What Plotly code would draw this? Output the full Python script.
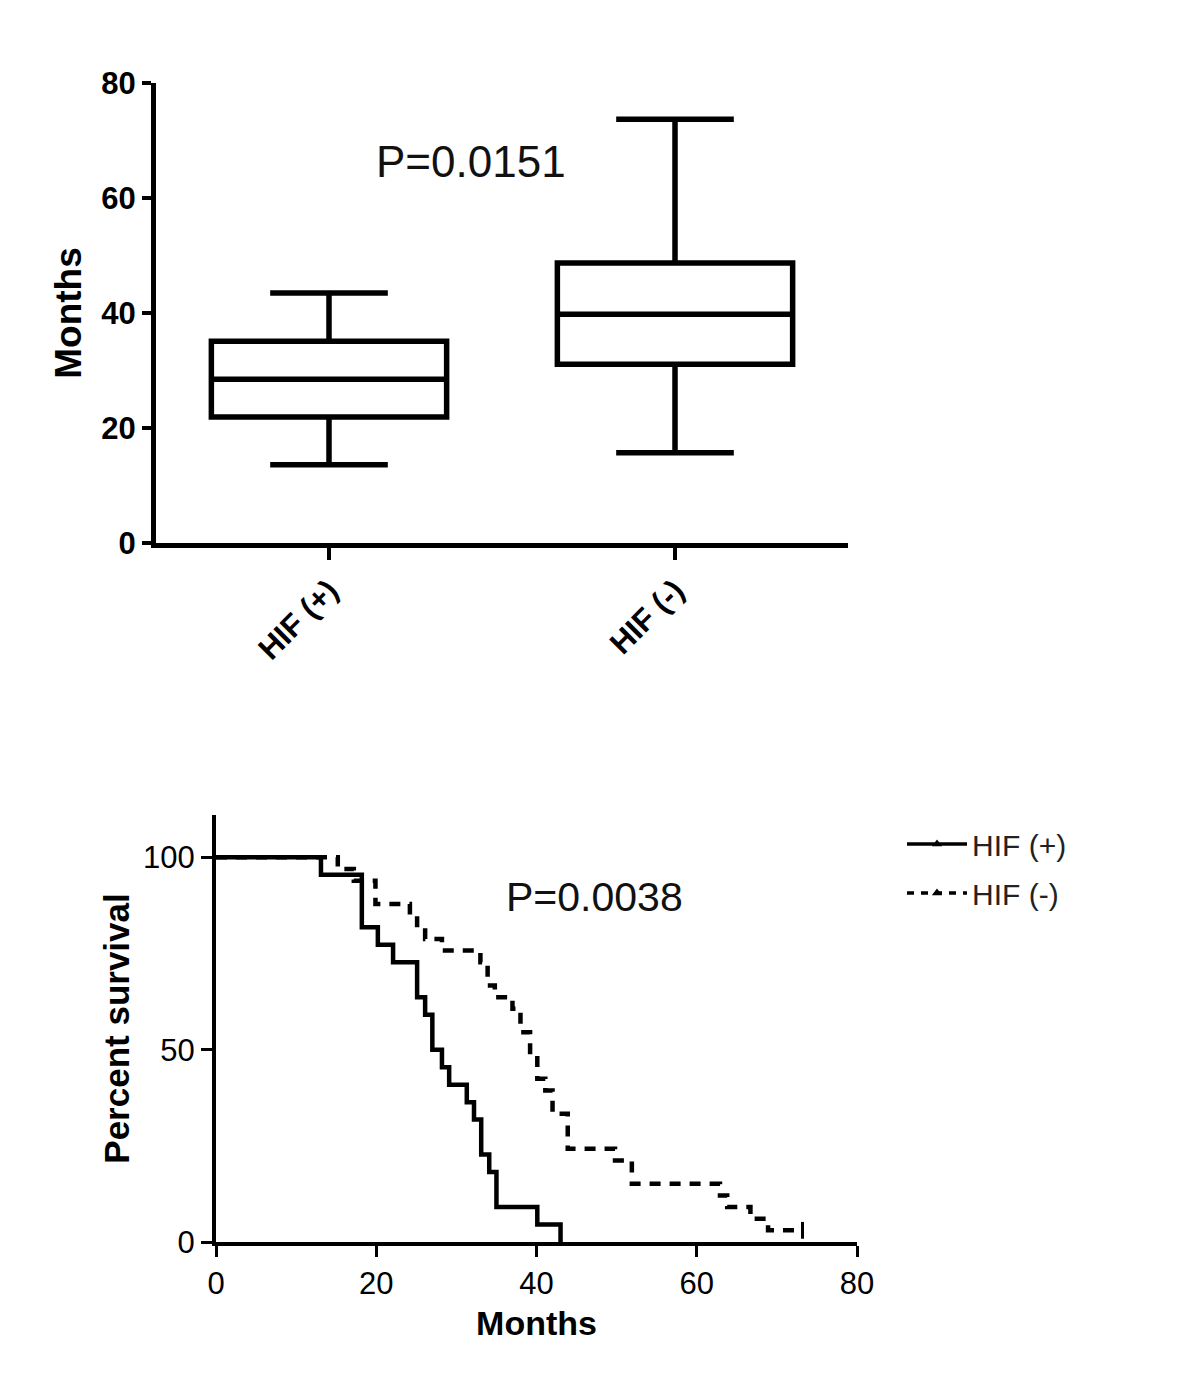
"""Box plot of survival months by HIF status plus Kaplan-Meier curves."""

import plotly.graph_objects as go

W, H = 1200, 1397
FONT = "Liberation Sans, Arial, sans-serif"
PAGE_OFFSET = 8  # browser body margin around the plot div

# --- box plot (months) ---
groups = ["HIF (+)", "HIF (-)"]
box_low = [13.6, 15.7]
box_q1 = [21.9, 31.1]
box_median = [28.5, 39.8]
box_q3 = [35.1, 48.7]
box_high = [43.5, 73.7]
box_p_text = "P=0.0151"

# --- Kaplan-Meier curves ---
pos_time = [0, 13.1, 18.2, 20.2, 22.1, 25.1, 26.1, 27.0, 28.2, 29.1, 31.3,
            32.2, 33.1, 34.1, 35.0, 40.1, 43.0]
pos_surv = [100, 95.45, 81.82, 77.27, 72.73, 63.64, 59.09, 50.0, 45.45, 40.91,
            36.36, 31.82, 22.73, 18.18, 9.09, 4.55, 0]

neg_time = [0, 15.2, 17.2, 19.9, 24.2, 25.1, 26.1, 28.2, 33.0, 33.9, 34.8,
            37.0, 38.0, 39.2, 40.1, 41.1, 42.0, 43.9, 49.8, 51.9, 62.9, 63.8,
            66.7, 68.9, 73.2]
neg_surv = [100, 96.97, 93.94, 87.88, 84.85, 81.82, 78.79, 75.76, 72.73, 66.67,
            63.64, 60.61, 54.55, 48.48, 42.42, 39.39, 33.33, 24.24, 21.21, 15.15,
            12.12, 9.09, 6.06, 3.03, 3.03]
km_p_text = "P=0.0038"


def px2paper(px):
    return (px - PAGE_OFFSET) / W


def py2paper(py):
    return 1 - (py - PAGE_OFFSET) / H


fig = go.Figure()

fig.add_trace(go.Box(
    x=groups, q1=box_q1, median=box_median, q3=box_q3,
    lowerfence=box_low, upperfence=box_high,
    boxpoints=False, width=0.68, whiskerwidth=0.5,
    line=dict(color="black", width=5.5), fillcolor="white",
    showlegend=False, xaxis="x", yaxis="y", hoverinfo="skip",
))

fig.add_trace(go.Scatter(
    x=pos_time, y=pos_surv, mode="lines", line_shape="hv",
    line=dict(color="black", width=4.5), showlegend=False,
    xaxis="x2", yaxis="y2",
))
fig.add_trace(go.Scatter(
    x=neg_time, y=neg_surv, mode="lines", line_shape="hv",
    line=dict(color="black", width=4.5, dash="11px,9px"), showlegend=False,
    xaxis="x2", yaxis="y2",
))
# censor tick at end of HIF(-) curve
fig.add_trace(go.Scatter(
    x=neg_time[-1:], y=neg_surv[-1:], mode="markers",
    marker=dict(symbol="line-ns", size=12, line=dict(width=3, color="black")),
    showlegend=False, xaxis="x2", yaxis="y2",
))

# legend-only entries
fig.add_trace(go.Scatter(
    x=[None], y=[None], mode="lines+markers", name="HIF (+)", legendgroup="pos",
    line=dict(color="black", width=3.5),
    marker=dict(symbol="triangle-up", size=9, color="black"),
    xaxis="x2", yaxis="y2",
))
fig.add_trace(go.Scatter(
    x=[None], y=[None], mode="lines+markers", name="HIF (-)", legendgroup="neg",
    line=dict(color="black", width=3.5, dash="7px,7px"),
    marker=dict(symbol="triangle-up", size=9, color="black"),
    xaxis="x2", yaxis="y2",
))

axis_common = dict(showgrid=False, zeroline=False, showline=True, automargin=False,
                   linecolor="black", ticks="outside", tickcolor="black")

fig.update_layout(
    width=W, height=H,
    margin=dict(l=0, r=0, t=0, b=0),
    paper_bgcolor="white", plot_bgcolor="white",
    font=dict(family=FONT, color="black"),
    xaxis=dict(
        **axis_common, domain=[px2paper(156), px2paper(848)], anchor="y",
        type="category", categoryarray=groups, range=[-0.5, 1.5],
        linewidth=5, ticklen=12, tickwidth=4, tickangle=-45,
        tickfont=dict(size=31, weight="bold"),
    ),
    yaxis=dict(
        **axis_common, domain=[py2paper(543), py2paper(83)], anchor="x",
        range=[0, 80], dtick=20, linewidth=5, ticklen=9, tickwidth=4,
        tickfont=dict(size=31, weight="bold"),
        title=dict(text="Months", font=dict(size=37, weight="bold"), standoff=10),
    ),
    xaxis2=dict(
        **axis_common, domain=[px2paper(216), px2paper(857)], anchor="y2",
        range=[0, 80], dtick=20, linewidth=4, ticklen=11, tickwidth=3,
        tickfont=dict(size=31),
        title=dict(text="Months", font=dict(size=34, weight="bold"), standoff=12),
    ),
    yaxis2=dict(
        **axis_common, domain=[py2paper(1242), py2paper(815)], anchor="x2",
        range=[0, 111], tickvals=[0, 50, 100], linewidth=4, ticklen=11, tickwidth=3,
        tickfont=dict(size=31),
        title=dict(text="Percent survival", font=dict(size=35, weight="bold"),
                   standoff=4),
    ),
    legend=dict(
        x=px2paper(902), y=py2paper(818), xanchor="left", yanchor="top",
        font=dict(size=30, color="#222222"), bgcolor="rgba(0,0,0,0)",
        itemwidth=60, tracegroupgap=7,
    ),
    annotations=[
        dict(text=box_p_text, x=0.41, y=66.3, xref="x", yref="y",
             showarrow=False, font=dict(size=44, color="#111111")),
        dict(text=km_p_text, x=47.2, y=89.6, xref="x2", yref="y2",
             showarrow=False, font=dict(size=41, color="#111111")),
    ],
)

fig.write_html("out.html")
